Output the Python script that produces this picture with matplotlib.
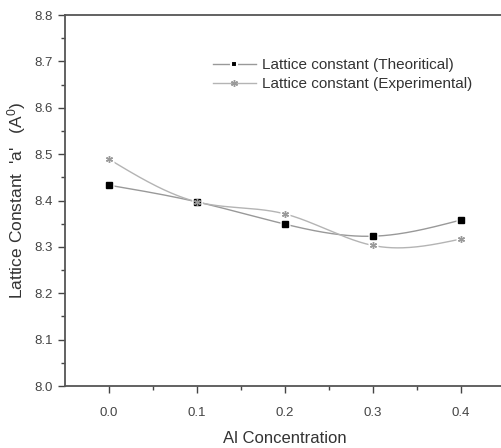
import numpy as np
import matplotlib.pyplot as plt

plt.rcParams['font.family'] = ['Liberation Sans', 'DejaVu Sans']
plt.rcParams['mathtext.default'] = 'regular'

# data
al_conc = [0.0, 0.1, 0.2, 0.3, 0.4]
lat_theory = [8.433, 8.397, 8.349, 8.323, 8.358]
lat_exp = [8.489, 8.397, 8.371, 8.303, 8.317]


def smooth(x, y, n=200):
    # natural cubic spline through the points (line style only)
    x = np.asarray(x, float)
    y = np.asarray(y, float)
    k = len(x)
    h = np.diff(x)
    A = np.zeros((k, k))
    b = np.zeros(k)
    A[0, 0] = A[-1, -1] = 1
    for i in range(1, k - 1):
        A[i, i - 1] = h[i - 1]
        A[i, i] = 2 * (h[i - 1] + h[i])
        A[i, i + 1] = h[i]
        b[i] = 6 * ((y[i + 1] - y[i]) / h[i] - (y[i] - y[i - 1]) / h[i - 1])
    M = np.linalg.solve(A, b)
    xs = np.linspace(x[0], x[-1], n)
    idx = np.clip(np.searchsorted(x, xs) - 1, 0, k - 2)
    x0, x1 = x[idx], x[idx + 1]
    hh = x1 - x0
    ys = (M[idx] * (x1 - xs) ** 3 / (6 * hh) + M[idx + 1] * (xs - x0) ** 3 / (6 * hh)
          + (y[idx] / hh - M[idx] * hh / 6) * (x1 - xs)
          + (y[idx + 1] / hh - M[idx + 1] * hh / 6) * (xs - x0))
    return xs, ys


fig = plt.figure(figsize=(5.02, 4.48), dpi=100)
ax = fig.add_axes([65 / 502, 1 - 386 / 448, 440 / 502, 371 / 448])

c_th = '#999999'
c_ex = '#b4b4b4'

xs, ys = smooth(al_conc, lat_theory)
ax.plot(xs, ys, color=c_th, lw=1.0, zorder=2)
xs, ys = smooth(al_conc, lat_exp)
ax.plot(xs, ys, color=c_ex, lw=1.0, zorder=2)

# white halo so the lines stop short of the symbols
ax.plot(al_conc, lat_theory, ls='none', marker='s', ms=7.5, mfc='white', mec='none', zorder=3)
ax.plot(al_conc, lat_exp, ls='none', marker='s', ms=7, mfc='white', mec='none', zorder=3)
ax.plot(al_conc, lat_theory, ls='none', marker='s', ms=4.8, mfc='black', mec='black', zorder=4)
ax.plot(al_conc, lat_exp, ls='none', marker=(6, 2, 0), ms=5, mec='#9a9a9a', mew=1.0, zorder=4)

# legend handles
h1, = ax.plot([], [], color=c_th, lw=1.0, marker='s', ms=4.5, mfc='black', mec='white', mew=1.5)
h2, = ax.plot([], [], color=c_ex, lw=1.0, marker=(6, 2, 0), ms=5, mec='#9a9a9a', mew=1.0)
ax.legend([h1, h2], ['Lattice constant (Theoritical)', 'Lattice constant (Experimental)'],
          loc='upper left', bbox_to_anchor=(0.305, 0.92), frameon=False, fontsize=11,
          handlelength=2.8, handletextpad=0.4, labelspacing=0.3, numpoints=1,
          labelcolor='#333333')

ax.set_xlim(-0.05, 0.45)
ax.set_ylim(8.0, 8.8)
ax.set_xticks([0.0, 0.1, 0.2, 0.3, 0.4])
ax.set_xticks([0.05, 0.15, 0.25, 0.35], minor=True)
ax.set_yticks(np.arange(8.0, 8.81, 0.1))
ax.set_yticks(np.arange(8.05, 8.8, 0.1), minor=True)
ax.set_xticklabels(['0.0', '0.1', '0.2', '0.3', '0.4'])
ax.set_yticklabels(['8.0', '8.1', '8.2', '8.3', '8.4', '8.5', '8.6', '8.7', '8.8'])
ax.tick_params(which='major', direction='out', length=5, width=1.0, colors='#444444',
               labelsize=9.5, pad=4)
ax.tick_params(which='minor', direction='out', length=3, width=1.0, color='#444444')
ax.tick_params(axis='x', which='major', pad=10)

for s in ax.spines.values():
    s.set_color('#555555')
    s.set_linewidth(1.3)

ax.set_xlabel('Al Concentration', fontsize=12, color='#333333', labelpad=9)
ax.set_ylabel("Lattice Constant  'a'   (A$^0$)", fontsize=12.5, color='#333333')
ax.yaxis.set_label_coords(-(65 - 28) / 440, 0.5)

fig.savefig('out.png', dpi=100, facecolor='white')
